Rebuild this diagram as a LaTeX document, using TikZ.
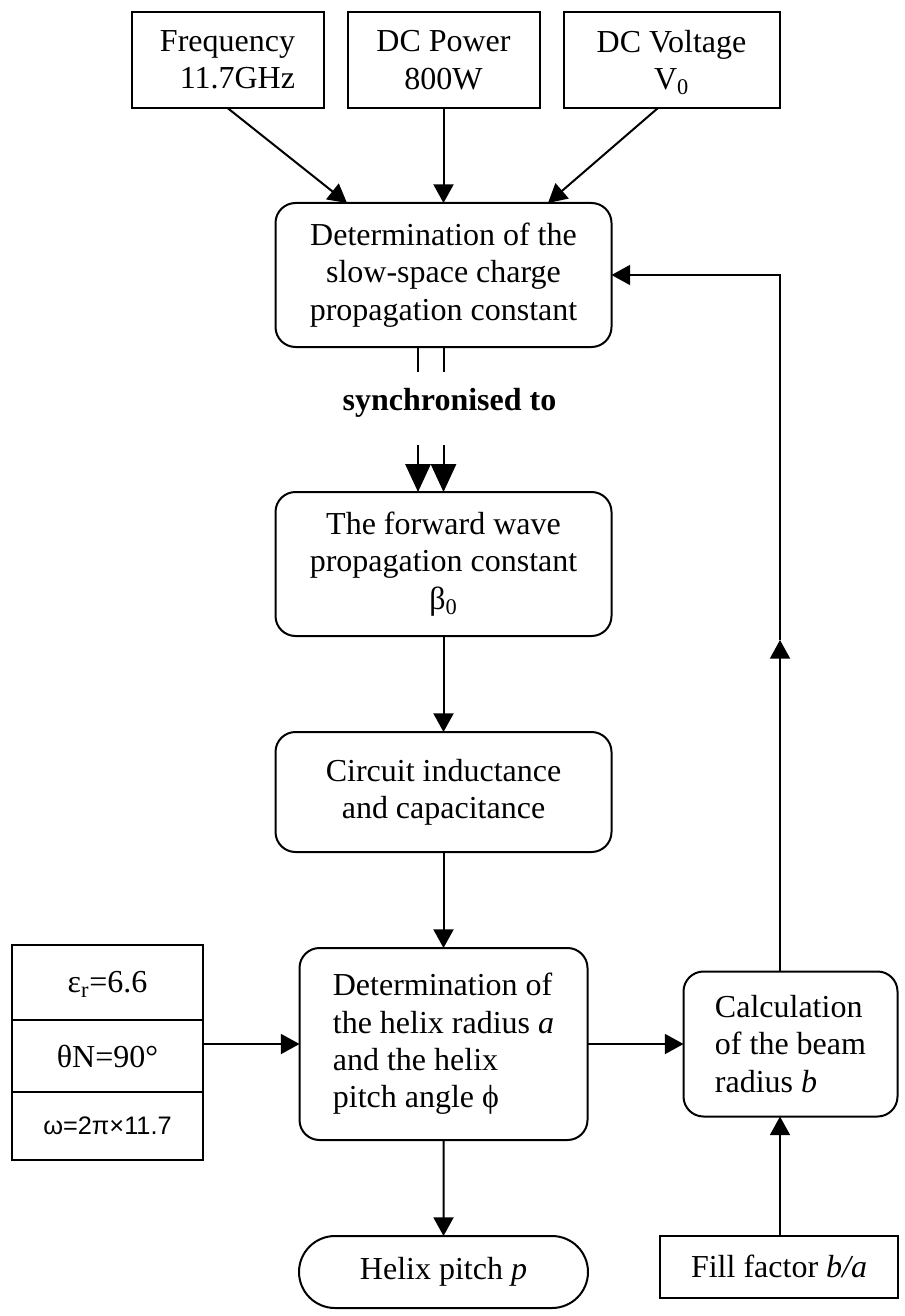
\documentclass[tikz,border=0pt]{standalone}
\usepackage{fontspec}
\setmainfont{Liberation Serif}
\newfontfamily\arialfont{Liberation Sans}
\usetikzlibrary{arrows.meta, positioning, shapes.misc}
\tikzset{
    myarrow/.style={-{Triangle[length=14pt,width=15pt]}},
    bigarrow/.style={-{Triangle[length=21pt,width=19pt]}},
    box/.style={draw, rectangle, line width=1.5pt, align=center, inner sep=0pt, outer sep=0pt, font=\fontsize{24}{28}\selectfont},
    stepbox/.style={box, rounded corners=15pt},
    endbox/.style={box, rounded rectangle}
}

\begin{document}
\begin{tikzpicture}[x=0.75pt, y=-0.75pt, line width=1.5pt, node distance=72pt]
    \useasboundingbox (0,0) rectangle (905,1316);
    % main column
    \node (slow) [stepbox, minimum width=252pt, minimum height=108pt] at (443.5,275) {Determination of the\\slow-space charge\\propagation constant};
    \node (fwd) [stepbox, below=108.75pt of slow, minimum width=252pt, minimum height=108pt] {The forward wave\\propagation constant\\β\smash{\textsubscript{0}}};
    \node (circ) [stepbox, below=of fwd, minimum width=252pt, minimum height=90pt] {Circuit inductance\\and capacitance};
    \node (helix) [stepbox, below=of circ, minimum width=216pt, minimum height=144pt, align=left] {Determination of\\the helix radius \textit{a}\\and the helix\\pitch angle ϕ};
    \node (pitch) [endbox, below=of helix, minimum width=216.75pt, minimum height=54pt] {Helix pitch \textit{p}};
    \node (sync) [font=\fontsize{24}{28}\selectfont\bfseries] at (449.5,403) {synchronised to};
    % inputs on top
    \node (power) [box, above=71.25pt of slow, minimum width=144pt, minimum height=72pt] {DC Power\\800W};
    \node (freq) [box, left=18pt of power, minimum width=144pt, minimum height=72pt, align=right] {Frequency\\11.7GHz};
    \node (volt) [box, right=18pt of power, minimum width=162pt, minimum height=72pt] {DC Voltage\\V\smash{\textsubscript{0}}};
    % parameters on the left
    \node (eps) [box, minimum width=143.25pt, minimum height=56.25pt] at (107.5,982.5) {ε\smash{\textsubscript{r}}=6.6};
    \node (theta) [box, below=0pt of eps, minimum width=143.25pt, minimum height=54pt] {θN=90°};
    \node (omega) [box, below=0pt of theta, minimum width=143.25pt, minimum height=51pt, font=\arialfont\fontsize{19}{22}\selectfont] {ω=2π×11.7};
    % beam radius
    \node (beam) [stepbox, right=of helix, minimum width=160.5pt, minimum height=108.75pt, align=left] {Calculation\\of the beam\\radius \textit{b}};
    \node (fill) [box, below=89.25pt of beam, xshift=-8.6pt, minimum width=179pt, minimum height=46.5pt] {Fill factor \textit{b/a}};

    \coordinate (inL) at (347,0);
    \coordinate (inR) at (548,0);
    \coordinate (voltOut) at (658,0);
    \coordinate (syncL) at (418,0);
    \coordinate (syncR) at (443.5,0);
    \coordinate (fbx) at (780,0);
    \coordinate (fbmid) at (780,640);
    \coordinate (fbtop) at (780,275);

    \draw [myarrow] (freq.south) -- (slow.north -| inL);
    \draw [myarrow] (power) -- (slow);
    \draw [myarrow] (volt.south -| voltOut) -- (slow.north -| inR);
    \draw (slow.south -| syncL) -- ++(0,25);
    \draw (slow.south -| syncR) -- ++(0,25);
    \draw [bigarrow] (fwd.north -| syncL) ++(0,-47) -- ++(0,47);
    \draw [bigarrow] (fwd.north -| syncR) ++(0,-47) -- ++(0,47);
    \draw [myarrow] (fwd) -- (circ);
    \draw [myarrow] (circ) -- (helix);
    \draw [myarrow] (helix) -- (pitch);
    \draw [myarrow] (theta.east |- helix.west) -- (helix.west);
    \draw [myarrow] (helix) -- (beam);
    \draw [myarrow] (fill.north -| fbx) -- (beam.south -| fbx);
    \draw [myarrow] (beam.north -| fbx) -- (fbmid);
    \draw [myarrow] (fbmid) -- (fbtop) -- (slow.east);
\end{tikzpicture}
\end{document}
